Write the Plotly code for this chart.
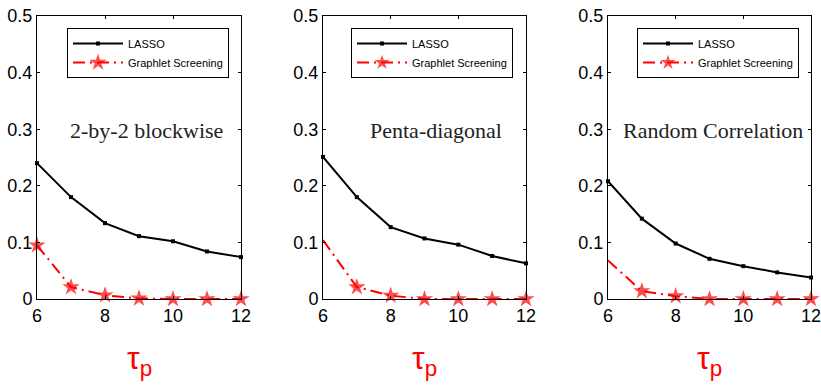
import plotly.graph_objects as go

tau = [6, 7, 8, 9, 10, 11, 12]
panel_titles = ["2-by-2 blockwise", "Penta-diagonal", "Random Correlation"]
lasso = [
    [0.240, 0.180, 0.134, 0.111, 0.102, 0.084, 0.074],
    [0.251, 0.180, 0.127, 0.107, 0.096, 0.076, 0.063],
    [0.208, 0.142, 0.098, 0.071, 0.058, 0.047, 0.038],
]
graphlet = [
    [0.095, 0.021, 0.0066, 0.001, 0.0, 0.0, 0.0],
    [0.104, 0.021, 0.006, 0.0, 0.0, 0.0, 0.0],
    [0.068, 0.014, 0.005, 0.0, 0.0, 0.0, 0.0],
]
yticks = [0, 0.1, 0.2, 0.3, 0.4, 0.5]
ytick_text = ["0", "0.1", "0.2", "0.3", "0.4", "0.5"]
xticks = [6, 8, 10, 12]

W, H = 821, 386
x_px = [(37, 241), (323, 526), (608, 811)]
y_px = (16, 299)
legend_px = [67, 351, 637]
legend_top = 28
title_cx = [146, 436, 713]
title_cy = 130
xlabel_cy = 360


def fx(px):
    return px / W


def fy(py):
    return 1 - py / H


fig = go.Figure()
ydom = [fy(y_px[1]), fy(y_px[0])]
layout = dict(
    width=W, height=H, margin=dict(l=0, r=0, t=0, b=0, autoexpand=False),
    plot_bgcolor="white", paper_bgcolor="white", showlegend=True,
)
annotations = []
for i in range(3):
    xa = "x" if i == 0 else f"x{i+1}"
    ya = "y" if i == 0 else f"y{i+1}"
    lg = "legend" if i == 0 else f"legend{i+1}"
    star_sizes = [13] * len(tau) if i == 0 else [0] + [13] * (len(tau) - 1)
    fig.add_trace(go.Scatter(
        x=tau, y=lasso[i], mode="lines+markers", name="LASSO",
        line=dict(color="black", width=2),
        marker=dict(symbol="square", size=4, color="black"),
        xaxis=xa, yaxis=ya, legend=lg, cliponaxis=False,
    ))
    fig.add_trace(go.Scatter(
        x=tau, y=graphlet[i], mode="lines+markers", name="Graphlet Screening",
        line=dict(color="red", width=2, dash="12px,5px,2px,5px"),
        marker=dict(symbol="star", size=star_sizes, color="red", line=dict(width=0)),
        xaxis=xa, yaxis=ya, legend=lg, cliponaxis=False,
    ))
    xdom = [fx(x_px[i][0]), fx(x_px[i][1])]
    axis_common = dict(
        showline=True, linecolor="black", linewidth=1, mirror="ticks",
        ticks="inside", ticklen=3, tickcolor="black", showgrid=False, zeroline=False,
        ticklabeloverflow="allow",
        tickfont=dict(family="Liberation Sans, Arial, sans-serif", size=18, color="black"),
    )
    layout["xaxis" if i == 0 else f"xaxis{i+1}"] = dict(
        domain=xdom, range=[6, 12], tickvals=xticks, anchor=ya, **axis_common)
    layout["yaxis" if i == 0 else f"yaxis{i+1}"] = dict(
        domain=ydom, range=[0, 0.5], tickvals=yticks, ticktext=ytick_text, anchor=xa,
        **axis_common)
    layout[lg] = dict(
        x=fx(legend_px[i]), y=fy(legend_top), xanchor="left", yanchor="top",
        bordercolor="black", borderwidth=1, bgcolor="white",
        font=dict(family="Liberation Sans, Arial, sans-serif", size=11, color="black"),
        itemwidth=50, tracegroupgap=0,
    )
    annotations.append(dict(
        x=fx(title_cx[i]), y=fy(title_cy), xref="paper", yref="paper",
        text=panel_titles[i], showarrow=False, xanchor="center", yanchor="middle",
        font=dict(family="Liberation Serif, Times New Roman, serif", size=22, color="#222"),
    ))
    cx = (x_px[i][0] + x_px[i][1]) / 2
    annotations.append(dict(
        x=fx(cx), y=fy(xlabel_cy), xref="paper", yref="paper", text="τ<sub>p</sub>",
        showarrow=False, xanchor="center", yanchor="middle",
        font=dict(family="Liberation Sans, Arial, sans-serif", size=32, color="red"),
    ))

layout["annotations"] = annotations
fig.update_layout(**layout)
fig.write_html(
    "out.html",
    config={"displayModeBar": False},
    post_script="document.body.style.margin='0';document.body.style.overflow='hidden';",
)
